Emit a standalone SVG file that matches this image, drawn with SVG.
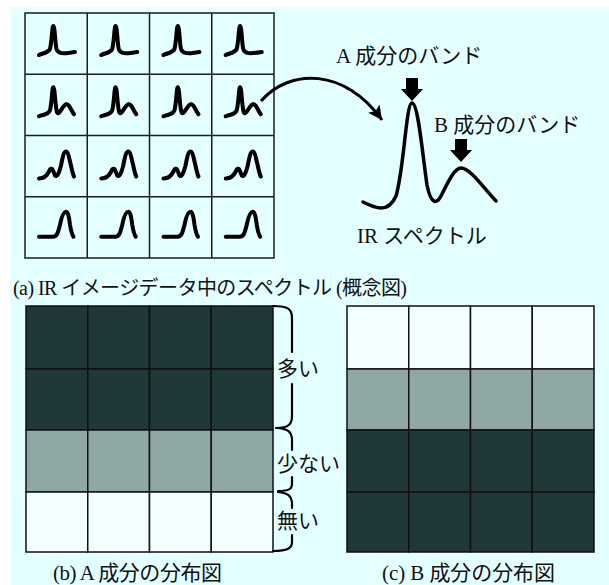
<svg xmlns="http://www.w3.org/2000/svg" xmlns:xlink="http://www.w3.org/1999/xlink" width="609" height="585" viewBox="0 0 609 585">
<style>
.bg{fill:#e4ffff}
.cell{fill:none;stroke:#1c1c1c;stroke-width:1.5}
.dk{fill:#213838;stroke:#111;stroke-width:1.5}
.gy{fill:#8fa8a6;stroke:#111;stroke-width:1.5}
.wh{fill:#f3ffff;stroke:#111;stroke-width:1.5}
.sp{fill:none;stroke:#000;stroke-width:4;stroke-linecap:round;stroke-linejoin:round}
.big{fill:none;stroke:#000;stroke-width:3.5;stroke-linecap:round;stroke-linejoin:round}
.br{fill:none;stroke:#000;stroke-width:2.2;stroke-linecap:round}
.t{font-family:"Liberation Serif","Noto Sans CJK JP",serif;font-size:21px;fill:#111}
.tt{font-size:20px}
</style>
<defs>
<path id="s1" class="sp" d="M14,42 C18,40 23,40 25,36 C27,28 27,13 28.3,13 C30,13 30,30 31.5,36 C33,41 38,41 50,39"/>
<path id="s2" class="sp" d="M14,42 C18,40 23,41 25,36 C27,28 27,13 28.3,13 C30,13 30,32 32,38 C34,42 37,32 41,30 C44,29 46,36 49,40"/>
<path id="s3" class="sp" d="M14,43 C19,43 22,40 24,36 C25,33 27,32 28,35 L30,40 C32,42 34,38 36,30 C38,20 39,16 41,16 C43,16 44,22 46,30 C47,35 48,39 49,41"/>
<path id="s4" class="sp" d="M14,40 L28,40 C32,40 33,36 35,28 C37,18 39,15 41,15 C43,15 44,20 45,28 C46,34 47,38 48.5,40"/>
<polygon id="down" points="-6,-23 6,-23 6,-12 11,-12 0,0 -11,-12 -6,-12" fill="#000"/>
<marker id="ah" markerUnits="userSpaceOnUse" markerWidth="20" markerHeight="20" refX="14" refY="7" orient="auto">
<polygon points="0,0 14,7 0,14 3,7" fill="#000"/>
</marker>
</defs>
<rect x="0" y="0" width="609" height="585" fill="#fff"/>
<rect class="bg" x="10" y="7" width="599" height="578"/>

<g id="ir-image-grid">
<rect class="cell" x="25" y="13" width="249" height="245"/>
<path class="cell" d="M87.25,13V258M149.5,13V258M211.75,13V258M25,74.25H274M25,135.5H274M25,196.75H274"/>
<use href="#s1" x="25" y="13"/><use href="#s1" x="87.25" y="13"/><use href="#s1" x="149.5" y="13"/><use href="#s1" x="211.75" y="13"/>
<use href="#s2" x="25" y="74.25"/><use href="#s2" x="87.25" y="74.25"/><use href="#s2" x="149.5" y="74.25"/><use href="#s2" x="211.75" y="74.25"/>
<use href="#s3" x="25" y="135.5"/><use href="#s3" x="87.25" y="135.5"/><use href="#s3" x="149.5" y="135.5"/><use href="#s3" x="211.75" y="135.5"/>
<use href="#s4" x="25" y="196.75"/><use href="#s4" x="87.25" y="196.75"/><use href="#s4" x="149.5" y="196.75"/><use href="#s4" x="211.75" y="196.75"/>
</g>

<g id="ir-spectrum">
<path class="big" d="M363,202 C375,208 388,214 396,196 C404,170 406,103 412,103 C418,103 422,150 427,185 C431,205 437,206 443,192 C449,180 455,168 461,168 C470,168 482,186 496,201"/>
<text class="t" x="357" y="243">IR スペクトル</text>
</g>

<g id="band-a">
<use href="#down" x="412" y="101"/>
<text class="t" x="336" y="63">A 成分のバンド</text>
</g>

<g id="band-b">
<use href="#down" x="461" y="162"/>
<text class="t" x="434" y="132">B 成分のバンド</text>
</g>

<g id="connectors">
<path d="M261,101 C290,68 345,68 382,120" fill="none" stroke="#000" stroke-width="3" marker-end="url(#ah)"/>
</g>

<g id="caption-a">
<text class="t tt" x="13" y="295" textLength="394">(a) IR イメージデータ中のスペクトル (概念図)</text>
</g>

<g id="map-a">
<rect class="dk" x="26" y="306" width="61.75" height="63"/><rect class="dk" x="87.75" y="306" width="61.75" height="63"/><rect class="dk" x="149.5" y="306" width="61.75" height="63"/><rect class="dk" x="211.25" y="306" width="61.75" height="63"/>
<rect class="dk" x="26" y="369" width="61.75" height="61"/><rect class="dk" x="87.75" y="369" width="61.75" height="61"/><rect class="dk" x="149.5" y="369" width="61.75" height="61"/><rect class="dk" x="211.25" y="369" width="61.75" height="61"/>
<rect class="gy" x="26" y="430" width="61.75" height="62"/><rect class="gy" x="87.75" y="430" width="61.75" height="62"/><rect class="gy" x="149.5" y="430" width="61.75" height="62"/><rect class="gy" x="211.25" y="430" width="61.75" height="62"/>
<rect class="wh" x="26" y="492" width="61.75" height="60"/><rect class="wh" x="87.75" y="492" width="61.75" height="60"/><rect class="wh" x="149.5" y="492" width="61.75" height="60"/><rect class="wh" x="211.25" y="492" width="61.75" height="60"/>
<text class="t" x="53" y="580" textLength="169">(b) A 成分の分布図</text>
</g>

<g id="brace-many">
<path class="br" d="M273,306 C288,306 292,309 292,318 L292,352 M292,384 L292,416 C292,424 289,428 276,428"/>
<text class="t" x="277" y="376">多い</text>
</g>
<g id="brace-few">
<path class="br" d="M278,428 C288,429 292,432 292,440 L292,450 M292,477 L292,484 C292,489 289,491 278,491"/>
<text class="t" x="277" y="471">少ない</text>
</g>
<g id="brace-none">
<path class="br" d="M278,492 C288,493 292,496 292,504 L292,508 M292,535 L292,542 C292,548 288,551 273,551"/>
<text class="t" x="277" y="528">無い</text>
</g>

<g id="map-b">
<rect class="wh" x="347" y="306" width="61.75" height="63"/><rect class="wh" x="408.75" y="306" width="61.75" height="63"/><rect class="wh" x="470.5" y="306" width="61.75" height="63"/><rect class="wh" x="532.25" y="306" width="61.75" height="63"/>
<rect class="gy" x="347" y="369" width="61.75" height="61"/><rect class="gy" x="408.75" y="369" width="61.75" height="61"/><rect class="gy" x="470.5" y="369" width="61.75" height="61"/><rect class="gy" x="532.25" y="369" width="61.75" height="61"/>
<rect class="dk" x="347" y="430" width="61.75" height="62"/><rect class="dk" x="408.75" y="430" width="61.75" height="62"/><rect class="dk" x="470.5" y="430" width="61.75" height="62"/><rect class="dk" x="532.25" y="430" width="61.75" height="62"/>
<rect class="dk" x="347" y="492" width="61.75" height="60"/><rect class="dk" x="408.75" y="492" width="61.75" height="60"/><rect class="dk" x="470.5" y="492" width="61.75" height="60"/><rect class="dk" x="532.25" y="492" width="61.75" height="60"/>
<text class="t" x="382" y="580" textLength="173">(c) B 成分の分布図</text>
</g>
</svg>
